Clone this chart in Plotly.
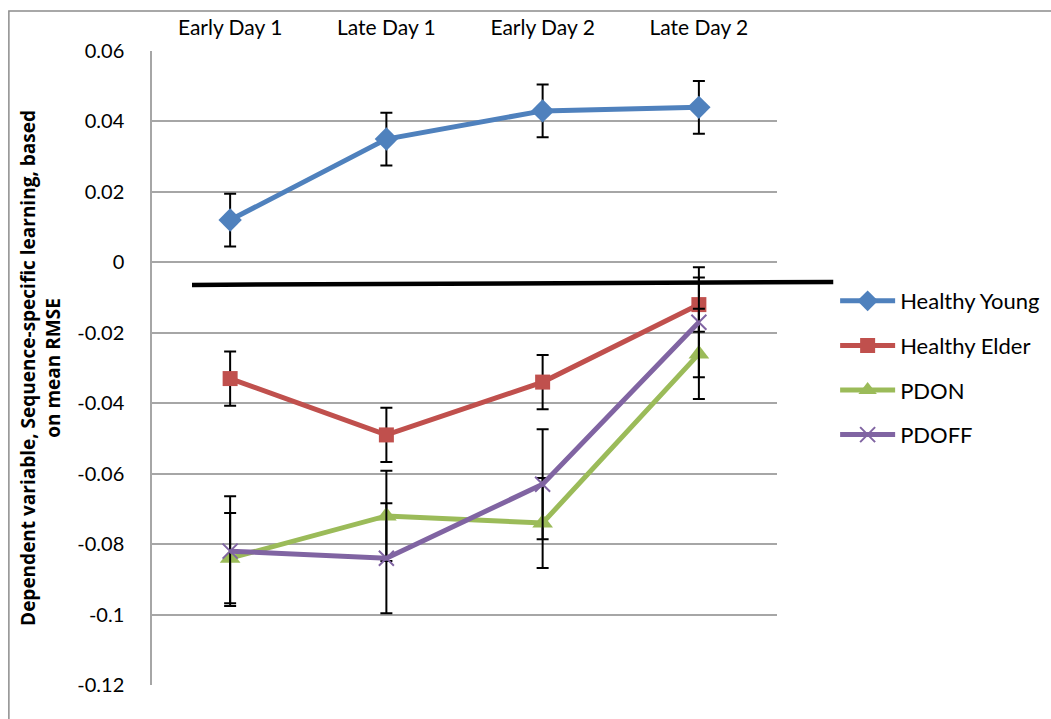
import plotly.graph_objects as go

# Sessions and group means (with symmetric error bars)
sessions = ["Early Day 1", "Late Day 1", "Early Day 2", "Late Day 2"]

young = [0.012, 0.035, 0.043, 0.044]
young_err = [0.0075, 0.0075, 0.0075, 0.0075]

elder = [-0.033, -0.049, -0.034, -0.012]
elder_err = [0.0077, 0.0077, 0.0077, 0.0077]

pdon = [-0.084, -0.072, -0.074, -0.026]
pdon_err = [0.0128, 0.0128, 0.0128, 0.0128]

pdoff = [-0.082, -0.084, -0.063, -0.017]
pdoff_err = [0.0156, 0.0156, 0.0156, 0.0156]

# Reference line drawn across the chart (left and right heights)
ref_line = [-0.0064, -0.0056]

y_ticks = [0.06, 0.04, 0.02, 0, -0.02, -0.04, -0.06, -0.08, -0.1, -0.12]
y_tick_text = ["0.06", "0.04", "0.02", "0", "-0.02", "-0.04", "-0.06", "-0.08", "-0.1", "-0.12"]

FONT = "Lato"

series = [
    ("Healthy Young", young, young_err, "#4F81BD", "diamond", 18),
    ("Healthy Elder", elder, elder_err, "#C0504D", "square", 15),
    ("PDON", pdon, pdon_err, "#9BBB59", "triangle-up", 18),
    ("PDOFF", pdoff, pdoff_err, "#8064A2", "x-thin", 15),
]

fig = go.Figure()
for name, vals, err, color, sym, size in series:
    marker = dict(symbol=sym, size=size, color=color)
    if sym == "x-thin":
        marker["line"] = dict(color=color, width=2)
    fig.add_trace(go.Scatter(
        x=sessions, y=vals, name=name, mode="lines+markers",
        legendgroup=name,
        line=dict(color=color, width=5),
        marker=marker,
        error_y=dict(type="data", array=err, visible=True,
                     color="black", thickness=2, width=6),
    ))

# Slightly sloped black reference line
fig.add_shape(type="line", xref="paper", yref="y",
              x0=0.064, x1=1.09, y0=ref_line[0], y1=ref_line[1],
              line=dict(color="black", width=4.5))

# Outer chart frame
fig.add_shape(type="rect", xref="paper", yref="paper",
              x0=-0.229, x1=2.0, y0=-1.0, y1=1.063,
              line=dict(color="#8C8C8C", width=1.5), layer="below")

fig.update_layout(
    width=1051, height=719,
    margin=dict(l=152, r=274, t=51, b=34, autoexpand=False),
    paper_bgcolor="white", plot_bgcolor="white",
    font=dict(family=FONT, color="black"),
    showlegend=True,
    legend=dict(x=1.093, y=0.5, xanchor="left", yanchor="middle",
                font=dict(size=22, family=FONT),
                itemwidth=55, tracegroupgap=13,
                bgcolor="rgba(0,0,0,0)"),
    xaxis=dict(side="top", range=[-0.5, 3.5], showgrid=False,
               showline=False, ticks="", tickfont=dict(size=21),
               ticklabelstandoff=11, zeroline=False),
    yaxis=dict(range=[-0.12, 0.06], tickvals=y_ticks, ticktext=y_tick_text,
               tickfont=dict(size=20), showgrid=True, gridcolor="#A6A6A6",
               gridwidth=1.5, zeroline=False, showline=True,
               linecolor="#A6A6A6", linewidth=1.5, ticks="",
               ticklabelstandoff=22,
               title=dict(text="<b>Dependent variable, Sequence-specific learning, based<br>on mean RMSE</b>",
                          font=dict(size=19, family="Open Sans"), standoff=12)),
)

fig.write_html("out.html")
